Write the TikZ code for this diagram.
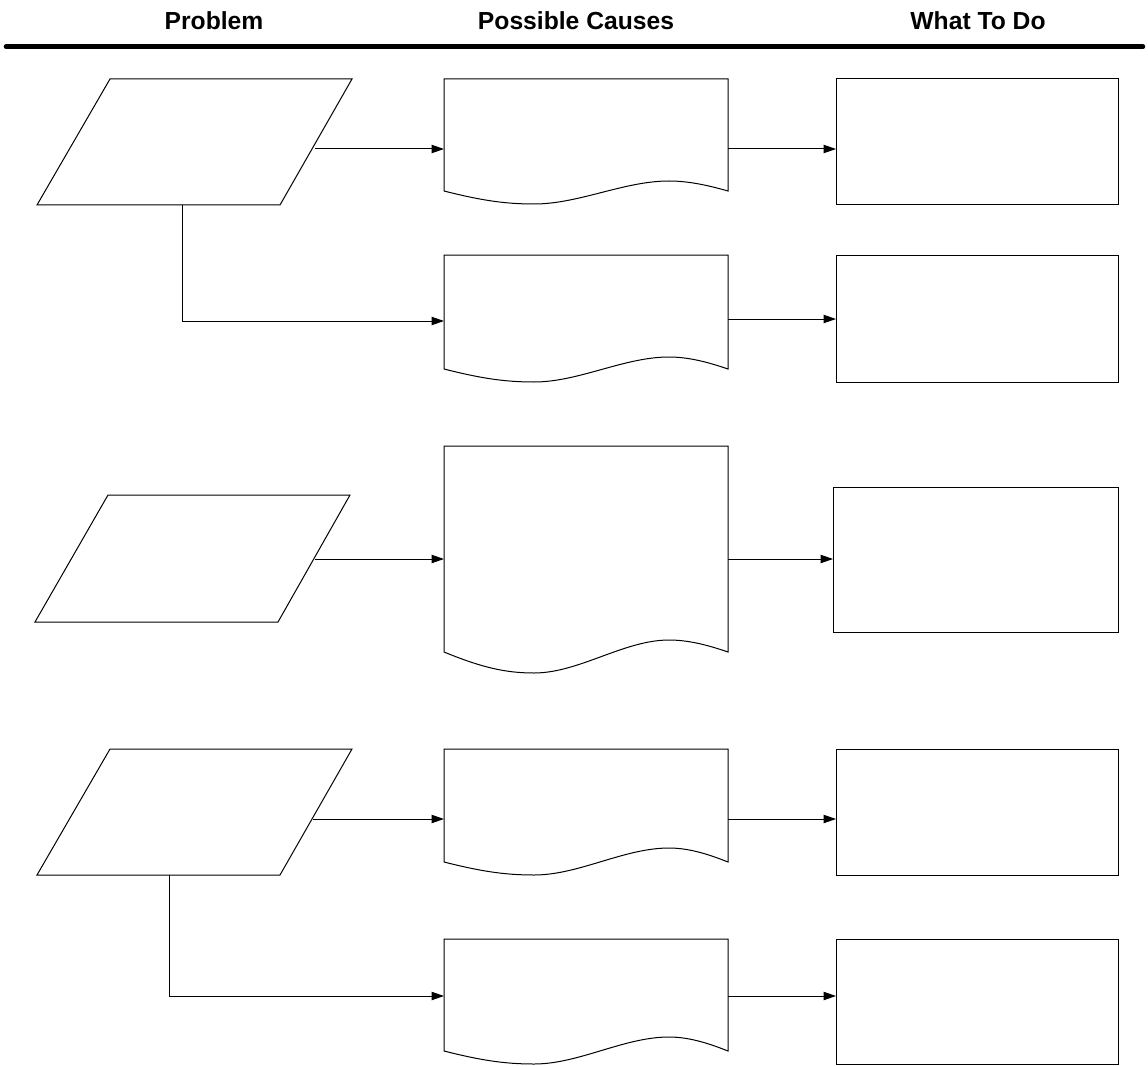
\documentclass[tikz,border=0pt]{standalone}
\usepackage{fontspec}
\setmainfont{Liberation Sans}
\usetikzlibrary{arrows.meta,calc}
\newcommand\mydocshape[3]{%
  \draw[shapeline] (#1.north east) -- (#1.north west) -- (#1.south west)
    .. controls +(36,0.7*#2) and +(-30,0) .. ++(90,#2)
    .. controls +(45,0) and +(-45,0) .. ++(135,-#2-#3)
    .. controls +(22,0) and +(-16,-0.45*#3) .. (#1.south east) -- cycle;}
\newcommand\mypara[4]{%
  \coordinate (#1-bl) at (#2,#4);
  \coordinate (#1-br) at (#2+243,#4);
  \coordinate (#1-tr) at (#2+315,#3);
  \coordinate (#1-tl) at (#2+73,#3);
  \draw[shapeline] (#1-bl) -- (#1-br) -- (#1-tr) -- (#1-tl) -- cycle;}
\begin{document}
\begin{tikzpicture}[x=0.75pt,y=-0.75pt,
  shapeline/.style={draw=black, line width=0.75pt, line join=miter},
  conn/.style={draw=black, line width=0.75pt, -{Triangle[length=9.2pt,width=6.2pt]}},
  head/.style={font=\bfseries\fontsize{18.5}{22}\selectfont, inner sep=0pt, anchor=base},
  boxnode/.style={draw=black, line width=0.75pt, rectangle, inner sep=0pt, outer sep=0pt, anchor=north west},
  docnode/.style={rectangle, inner sep=0pt, outer sep=0pt, anchor=north west, draw=none, minimum width=284*0.75pt},
]
\useasboundingbox (0,0) rectangle (1148,1066);
% header
\node[head] (h1) at (214,29.3) {Problem};
\node[head] (h2) at (576,29.3) {Possible Causes};
\node[head] (h3) at (978,29.3) {What To Do};
\coordinate (hl) at (6,46.7);
\coordinate (hr) at (1143,46.7);
\draw[line width=3.4pt, line cap=round] (hl) -- (hr);
% problems
\mypara{p1}{37}{79}{205}
\mypara{p2}{35}{495}{622}
\mypara{p3}{37}{749}{875}
% causes
\node[docnode, minimum height=112*0.75pt] (d1) at (444,79) {};
\node[docnode, minimum height=114*0.75pt] (d2) at (444,255) {};
\node[docnode, minimum height=206*0.75pt] (d3) at (444,446) {};
\node[docnode, minimum height=113*0.75pt] (d4) at (444,749) {};
\node[docnode, minimum height=112*0.75pt] (d5) at (444,939) {};
\mydocshape{d1}{13}{10}
\mydocshape{d2}{13}{12}
\mydocshape{d3}{21}{12}
\mydocshape{d4}{13}{14}
\mydocshape{d5}{13}{14}
% what to do
\node[boxnode, minimum width=282*0.75pt, minimum height=126*0.75pt] (b1) at (836,79) {};
\node[boxnode, minimum width=282*0.75pt, minimum height=127*0.75pt] (b2) at (836,255) {};
\node[boxnode, minimum width=285*0.75pt, minimum height=145*0.75pt] (b3) at (833,487) {};
\node[boxnode, minimum width=282*0.75pt, minimum height=126*0.75pt] (b4) at (836,749) {};
\node[boxnode, minimum width=282*0.75pt, minimum height=125*0.75pt] (b5) at (836,939) {};
% connection points
\coordinate (p1out) at (315,149);
\coordinate (p2out) at (315,559);
\coordinate (p3out) at (313,819);
\coordinate (p1drop) at (182,205);
\coordinate (p3drop) at (169,875);
\coordinate (d2in) at (444,321);
\coordinate (d5in) at (444,996);
\coordinate (d2out) at (728,319);
% connectors
\draw[conn] (p1out) -- (p1out -| d1.west);
\draw[conn] (p1drop) |- (d2in);
\draw[conn] (d1.east |- p1out) -- (b1.west |- p1out);
\draw[conn] (d2out) -- (b2.west |- d2out);
\draw[conn] (p2out) -- (p2out -| d3.west);
\draw[conn] (d3.east |- p2out) -- (b3.west |- p2out);
\draw[conn] (p3out) -- (p3out -| d4.west);
\draw[conn] (p3drop) |- (d5in);
\draw[conn] (d4.east |- p3out) -- (b4.west |- p3out);
\draw[conn] (d5.east |- d5in) -- (b5.west |- d5in);
\end{tikzpicture}
\end{document}
